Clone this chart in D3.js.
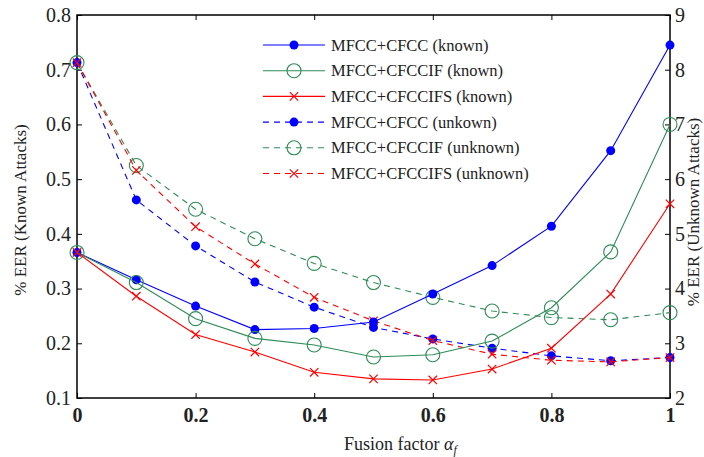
<!DOCTYPE html>
<html>
<head>
<meta charset="utf-8">
<script src="https://cdn.jsdelivr.net/npm/d3@7"></script>
<style>
body { margin: 0; background: #fff; }
svg text { font-family: "Liberation Serif", "Times New Roman", Times, "DejaVu Serif", serif; fill: #222; }
</style>
</head>
<body>
<script>
var width = 704, height = 457;
var serifFont = "'Liberation Serif', 'Times New Roman', Times, 'DejaVu Serif', serif";

// data
var fusion = [0, 0.1, 0.2, 0.3, 0.4, 0.5, 0.6, 0.7, 0.8, 0.9, 1];
// known attacks, left axis
var cfccKnown    = [0.366, 0.316, 0.268, 0.225, 0.227, 0.239, 0.290, 0.342, 0.414, 0.552, 0.745];
var cfccifKnown  = [0.366, 0.311, 0.245, 0.209, 0.197, 0.175, 0.179, 0.204, 0.265, 0.367, 0.600];
var cfccifsKnown = [0.366, 0.286, 0.216, 0.184, 0.147, 0.135, 0.133, 0.153, 0.191, 0.290, 0.455];
// unknown attacks, right axis
var cfccUnknown    = [8.13, 5.62, 4.78, 4.12, 3.66, 3.29, 3.08, 2.91, 2.77, 2.68, 2.74];
var cfccifUnknown  = [8.13, 6.25, 5.45, 4.91, 4.46, 4.11, 3.84, 3.59, 3.47, 3.43, 3.56];
var cfccifsUnknown = [8.13, 6.16, 5.13, 4.45, 3.84, 3.41, 3.05, 2.80, 2.69, 2.66, 2.74];

var xTicks = [0, 0.2, 0.4, 0.6, 0.8, 1];
var leftTicks = [0.1, 0.2, 0.3, 0.4, 0.5, 0.6, 0.7, 0.8];
var rightTicks = [2, 3, 4, 5, 6, 7, 8, 9];

var seriesNames = ["MFCC+CFCC (known)", "MFCC+CFCCIF (known)", "MFCC+CFCCIFS (known)",
  "MFCC+CFCC (unkown)", "MFCC+CFCCIF (unknown)", "MFCC+CFCCIFS (unknown)"];

var blue = "#0000ff", green = "#2e8b57", red = "#ff0000";

var margin = {left: 77, right: 34, top: 15, bottom: 59};

var x = d3.scaleLinear().domain([0, 1]).range([margin.left, width - margin.right]);
var yL = d3.scaleLinear().domain([0.1, 0.8]).range([height - margin.bottom, margin.top]);
var yR = d3.scaleLinear().domain([2, 9]).range([height - margin.bottom, margin.top]);

var series = [
  {name: seriesNames[0], vals: cfccKnown, y: yL, color: blue, marker: "dot", dash: null},
  {name: seriesNames[1], vals: cfccifKnown, y: yL, color: green, marker: "circle", dash: null},
  {name: seriesNames[2], vals: cfccifsKnown, y: yL, color: red, marker: "x", dash: null},
  {name: seriesNames[3], vals: cfccUnknown, y: yR, color: blue, marker: "dot", dash: "6,5"},
  {name: seriesNames[4], vals: cfccifUnknown, y: yR, color: green, marker: "circle", dash: "6,5"},
  {name: seriesNames[5], vals: cfccifsUnknown, y: yR, color: red, marker: "x", dash: "6,5"}
];

var svg = d3.select("body")
.append("svg")
.attr("width", width)
.attr("height", height);

var x0 = margin.left, x1 = width - margin.right;
var y0 = height - margin.bottom, y1 = margin.top;

function styleTicks(g, bold) {
	g.select(".domain").remove();
	g.attr("font-family", serifFont);
	g.selectAll("line").attr("stroke", "#000");
	g.selectAll("text")
		.attr("font-size", 20)
		.attr("font-weight", bold ? "bold" : "normal")
		.attr("font-family", serifFont)
		.attr("fill", "#222");
}

// axes (ticks inward)
svg.append("g")
	.attr("transform", "translate(0," + y0 + ")")
	.call(d3.axisBottom(x).tickValues(xTicks).tickSize(-5).tickPadding(10).tickFormat(d3.format("")))
	.call(function(g) { styleTicks(g, true); });

svg.append("g")
	.attr("transform", "translate(0," + y1 + ")")
	.call(d3.axisTop(x).tickValues(xTicks).tickSize(-5).tickFormat(""))
	.call(function(g) { g.select(".domain").remove(); g.selectAll("line").attr("stroke", "#000"); });

svg.append("g")
	.attr("transform", "translate(" + x0 + ",0)")
	.call(d3.axisLeft(yL).tickValues(leftTicks).tickSize(-5).tickPadding(6).tickFormat(d3.format(".1f")))
	.call(function(g) { styleTicks(g, false); });

svg.append("g")
	.attr("transform", "translate(" + x1 + ",0)")
	.call(d3.axisRight(yR).tickValues(rightTicks).tickSize(-5).tickPadding(5).tickFormat(d3.format("d")))
	.call(function(g) { styleTicks(g, false); });

svg.append("rect")
	.attr("x", x0).attr("y", y1)
	.attr("width", x1 - x0).attr("height", y0 - y1)
	.attr("fill", "none").attr("stroke", "#000").attr("stroke-width", 1.5);

function drawMarker(g, type, color, cx, cy) {
	if (type === "dot") {
		g.append("circle").attr("cx", cx).attr("cy", cy).attr("r", 4.5).attr("fill", color);
	} else if (type === "circle") {
		g.append("circle").attr("cx", cx).attr("cy", cy).attr("r", 7).attr("fill", "none")
			.attr("stroke", color).attr("stroke-width", 1.1);
	} else {
		var s = 4.2;
		g.append("path")
			.attr("d", "M" + (cx - s) + "," + (cy - s) + "L" + (cx + s) + "," + (cy + s) +
				"M" + (cx - s) + "," + (cy + s) + "L" + (cx + s) + "," + (cy - s))
			.attr("stroke", color).attr("stroke-width", 1.2).attr("fill", "none");
	}
}

var plot = svg.append("g");

// draw unknown first, then known
[3, 4, 5, 0, 1, 2].forEach(function(i) {
	var s = series[i];
	var line = d3.line()
		.x(function(d, j) { return x(fusion[j]); })
		.y(function(d) { return s.y(d); });
	plot.append("path")
		.datum(s.vals)
		.attr("d", line)
		.attr("fill", "none")
		.attr("stroke", s.color)
		.attr("stroke-width", 1.1)
		.attr("stroke-dasharray", s.dash);
	s.vals.forEach(function(v, j) {
		drawMarker(plot, s.marker, s.color, x(fusion[j]), s.y(v));
	});
});

// legend
var legend = svg.append("g");
series.forEach(function(s, i) {
	var ly = 45 + i * 25.7;
	legend.append("line")
		.attr("x1", 263).attr("x2", 325).attr("y1", ly).attr("y2", ly)
		.attr("stroke", s.color).attr("stroke-width", 1.1)
		.attr("stroke-dasharray", s.dash);
	drawMarker(legend, s.marker, s.color, 294, ly);
	legend.append("text")
		.attr("x", 331).attr("y", ly + 5.5)
		.attr("font-size", 16.5)
		.attr("font-family", serifFont)
		.text(s.name);
});

// axis titles
svg.append("text")
	.attr("transform", "translate(26,210) rotate(-90)")
	.attr("text-anchor", "middle")
	.attr("font-size", 17)
	.attr("font-family", serifFont)
	.text("% EER (Known Attacks)");

svg.append("text")
	.attr("transform", "translate(699,212) rotate(-90)")
	.attr("text-anchor", "middle")
	.attr("font-size", 17)
	.attr("font-family", serifFont)
	.text("% EER (Unknown Attacks)");

var xl = svg.append("text")
	.attr("x", 344)
	.attr("y", 450)
	.attr("font-size", 18)
	.attr("font-family", serifFont);
xl.append("tspan").text("Fusion factor ");
xl.append("tspan").attr("font-style", "italic").text("α");
xl.append("tspan").attr("font-style", "italic").attr("font-size", 12).attr("dy", 4).text("f");
</script>
</body>
</html>
